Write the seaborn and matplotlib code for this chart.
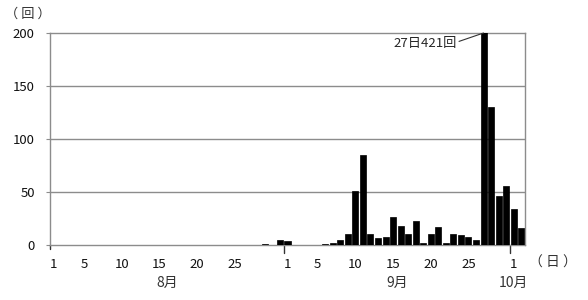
import numpy as np
import pandas as pd
import matplotlib
matplotlib.use("Agg")
import matplotlib.pyplot as plt
import seaborn as sns

# ---- data ----
aug_counts = [0]*28 + [1, 0, 5]           # Aug 1 - Aug 31
sep_counts = [4, 0, 0, 0, 0, 1, 2, 5, 10, 51, 85, 10, 7, 8, 26, 18, 10, 23, 2, 10,
              17, 2, 10, 9, 8, 5, 421, 130, 46, 56]   # Sep 1 - Sep 30
oct_counts = [34, 16]                     # Oct 1 - Oct 2
month_names = ["8月", "9月", "10月"]
day_labels = [1, 5, 10, 15, 20, 25]
y_ticks = [0, 50, 100, 150, 200]
y_max = 200

counts = aug_counts + sep_counts + oct_counts
days = list(range(1, 32)) + list(range(1, 31)) + list(range(1, 3))
months = ["8"]*31 + ["9"]*30 + ["10"]*2
df = pd.DataFrame({"idx": np.arange(len(counts)), "count": counts, "day": days, "month": months})

sns.set_style("white")
plt.rcParams["font.family"] = ["Noto Sans CJK JP", "DejaVu Sans"]

fig = plt.figure(figsize=(5.88, 3.0), dpi=100)
ax = fig.add_axes([50/588, 1-245/300, 475/588, 212/300])

sns.barplot(data=df, x="idx", y="count", color="black", width=0.8,
            edgecolor="black", linewidth=0.5, saturation=1, ax=ax, zorder=3)

ax.set_xlim(-0.5, len(counts) - 0.5)
ax.set_ylim(0, y_max)

gray = "#8c8c8c"
for s in ax.spines.values():
    s.set_color(gray)
    s.set_linewidth(1.0)
    s.set_visible(True)

ax.set_yticks(y_ticks)
ax.set_yticklabels([str(v) for v in y_ticks], fontsize=9.5, color="#111111")
ax.tick_params(axis="y", length=3, color=gray, pad=8, left=True)
for v in y_ticks[1:-1]:
    ax.axhline(v, color=gray, lw=1.0, zorder=1)

# x tick labels at selected days
month_starts = [0, 31, 61]
pos, labs = [], []
for ms, mlen in zip(month_starts, [31, 30, 2]):
    for d in day_labels:
        if d <= mlen:
            pos.append(ms + d - 1)
            labs.append(str(d))
ax.set_xticks(pos)
ax.set_xticklabels(labs, fontsize=9.5, color="#111111")
ax.tick_params(axis="x", length=0, pad=9)
ax.set_xlabel("")
ax.set_ylabel("")

# month boundary ticks
tr = ax.get_xaxis_transform()
for ms in month_starts:
    ax.plot([ms - 0.5, ms - 0.5], [0, -0.04 if ms else -0.02], transform=tr,
            color="#333333", lw=1.0, clip_on=False)

# month labels
month_centers = [15, 45.5, 61]
for mc, mn in zip(month_centers, month_names):
    ax.text(mc, -0.18, mn, transform=tr, ha="center", va="center", fontsize=10, color="#333333")

ax.text(1.058, -0.085, "（ 日 ）", transform=ax.transAxes, ha="center", va="center", fontsize=10, color="#333333")
fig.text(28/588, 1-14/300, "（ 回 ）", ha="center", va="center", fontsize=9.5, color="#333333")

# annotation for clipped peak
peak = int(np.argmax(counts))
ax.annotate(f"{days[peak]}日{counts[peak]}回", xy=(peak, y_max), xytext=(peak - 3.6, y_max*0.95),
            ha="right", va="center", fontsize=9.5,
            arrowprops=dict(arrowstyle="-", color="#333333", lw=0.8, shrinkA=1, shrinkB=0,
                            relpos=(1.0, 0.6)),
            bbox=dict(boxstyle="square,pad=0.1", fc="white", ec="none"), zorder=5)

fig.savefig("out.png", dpi=100)
